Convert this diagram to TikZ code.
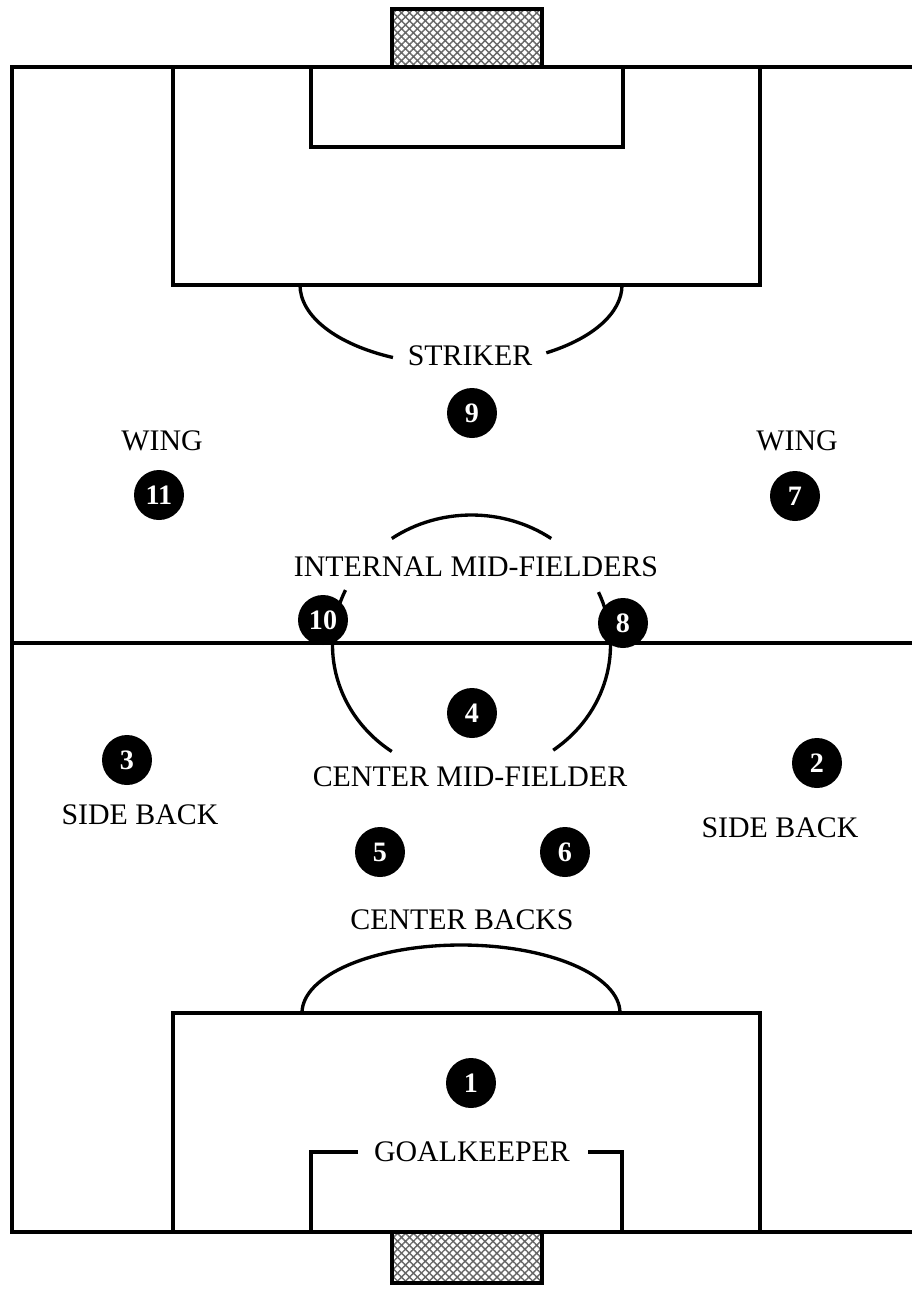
\documentclass[tikz,border=0pt]{standalone}
\usepackage{fontspec}
\setmainfont{Liberation Serif}
\usetikzlibrary{patterns.meta}

\begin{document}
\begin{tikzpicture}[x=0.02cm, y=-0.02cm, line width=1.9pt,
  player/.style={circle, fill=black, text=white, minimum size=1cm, inner sep=0pt,
    font=\fontsize{16}{16}\selectfont\bfseries},
  role/.style={inner sep=0pt, font=\fontsize{17}{20}\selectfont},
  net/.style={pattern={Hatch[angle=45, distance=3.2pt, line width=0.8pt]}, pattern color=black!60}]
\useasboundingbox (0,0) rectangle (912,1289);
% Goals
\draw [net] (392,9) rectangle (542,67);
\draw [net] (392,1232) rectangle (542,1283);
% Outer lines and halfway line (right touch line runs off the page)
\draw (912,67) -- (12,67) -- (12,1232) -- (912,1232);
\draw (12,643) -- (912,643);
% Penalty areas and goal areas
\draw (173,67) |- (760,285) -- (760,67);
\draw (311,67) |- (623,147) -- (623,67);
\draw (173,1232) |- (760,1013) -- (760,1232);
\draw (358,1152) -| (311,1232);
\draw (588,1152) -| (622,1232);
% Penalty arcs, broken for the striker label
\draw (300,285) arc [start angle=180, end angle=115, x radius=161, y radius=80];
\draw (622,285) arc [start angle=0, end angle=58, x radius=161, y radius=80];
\draw (302,1013) arc [start angle=180, end angle=360, x radius=159, y radius=68];
% Centre circle, in three pieces
\begin{scope}[shift={(471.5,645)}]
  \coordinate (mid) at (0,0);
  \draw (235:139 and 130) arc [start angle=235, end angle=305, x radius=139, y radius=130];
  \draw (205:139 and 130) arc [start angle=205, end angle=125, x radius=139, y radius=130];
  \draw (-24:139 and 130) arc [start angle=-24, end angle=54, x radius=139, y radius=130];
\end{scope}
% Players
\foreach \n/\x/\y in {1/471/1083, 2/817/763, 3/127/760, 4/472/713, 5/380/852,
  6/565/852, 7/795/496, 8/623/623, 9/472/413, 10/323/620, 11/159/495} {
  \node [player] (p\n) at (\x,\y) {\n};
}
% Position labels
\node [role] (striker) at (470,356) {STRIKER};
\node [role] (wingL) at (162,441) {WING};
\node [role] (wingR) at (797,441) {WING};
\node [role] (intmid) at (476,567) {INTERNAL MID-FIELDERS};
\node [role] (centmid) at (470,777) {CENTER MID-FIELDER};
\node [role] (sideL) at (140,815) {SIDE BACK};
\node [role] (sideR) at (780,828) {SIDE BACK};
\node [role] (centback) at (462,920) {CENTER BACKS};
\node [role] (keeper) at (472,1152) {GOALKEEPER};
\end{tikzpicture}
\end{document}
